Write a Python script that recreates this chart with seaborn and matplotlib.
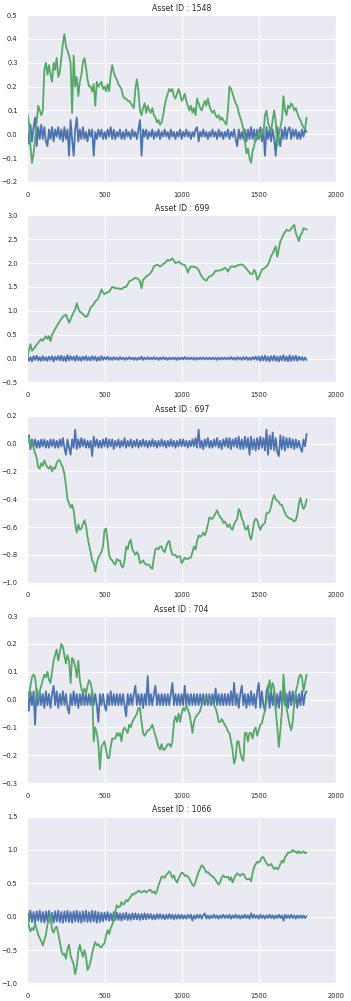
import numpy as np
import matplotlib
matplotlib.use("Agg")
import matplotlib.pyplot as plt
import seaborn as sns
from matplotlib.ticker import MultipleLocator

# one sample every 10 days
ASSET_IDS = [1548, 699, 697, 704, 1066]
DAY_STEP = 10

# ---- asset 1548 ----
RET_1548 = [
    0.02, -0.04, 0.04, -0.03, 0.03, 0.07, -0.05, 0.03, -0.02, 0.04,
    -0.02, 0.03, -0.03, -0.05, 0.02, -0.02, 0.03, -0.03, 0.02, -0.01,
    0.03, -0.02, 0.02, -0.03, 0.03, -0.02, 0.02, -0.09, 0.06, -0.02,
    -0.09, 0.02, 0.07, -0.03, 0.02, -0.02, 0.03, -0.02, 0.01, -0.03,
    0.02, -0.01, 0.02, -0.09, 0.01, -0.02, 0.02, -0.01, 0.02, -0.02,
    0.01, -0.02, 0.02, -0.01, 0.03, -0.02, 0.02, -0.02, 0.01, -0.01,
    0.02, -0.02, 0.01, -0.02, 0.02, -0.01, 0.01, -0.02, 0.02, -0.01,
    0.01, -0.02, 0.02, 0.06, -0.09, 0.02, -0.01, 0.02, -0.02, 0.01,
    -0.01, 0.02, -0.02, 0.01, -0.01, 0.02, -0.02, 0.01, -0.01, 0.02,
    -0.01, 0.01, -0.02, 0.02, -0.01, 0.01, -0.02, 0.01, -0.01, 0.02,
    -0.02, 0.01, -0.01, 0.02, -0.01, 0.01, -0.02, 0.01, -0.01, 0.02,
    0.03, -0.03, 0.01, -0.01, 0.02, -0.01, 0.01, -0.02, 0.01, -0.01,
    0.02, -0.01, 0.01, -0.02, 0.02, -0.01, 0.01, -0.02, 0.01, -0.01,
    0.02, -0.02, 0.01, -0.01, 0.02, -0.02, -0.05, 0.02, -0.02, 0.01,
    -0.02, 0.02, -0.03, 0.02, -0.02, 0.03, -0.02, 0.02, -0.03, 0.02,
    -0.02, 0.03, -0.03, 0.02, -0.09, 0.03, -0.02, 0.02, -0.03, 0.02,
    -0.02, -0.09, 0.03, -0.02, -0.05, 0.02, -0.02, 0.03, -0.02, 0.02,
    0.03, -0.02, 0.02, -0.01, 0.02, -0.02, 0.01, -0.02, 0.02, -0.01,
    0.02, 0.01,
]
CUM_1548 = [
    0.09, 0.05, -0.05, -0.12, -0.08, -0.02, 0.05, 0.12, 0.10, 0.08,
    0.10, 0.27, 0.30, 0.25, 0.29, 0.25, 0.22, 0.30, 0.27, 0.32,
    0.24, 0.26, 0.32, 0.38, 0.42, 0.37, 0.35, 0.33, 0.30, 0.09,
    0.33, 0.20, 0.24, 0.16, 0.22, 0.25, 0.30, 0.32, 0.28, 0.23,
    0.20, 0.20, 0.18, 0.21, 0.12, 0.22, 0.20, 0.21, 0.22, 0.19,
    0.20, 0.18, 0.21, 0.18, 0.25, 0.29, 0.26, 0.24, 0.23, 0.21,
    0.20, 0.19, 0.16, 0.15, 0.15, 0.14, 0.14, 0.13, 0.12, 0.11,
    0.19, 0.23, 0.18, 0.10, 0.08, 0.11, 0.13, 0.09, 0.12, 0.10,
    0.09, 0.11, 0.08, 0.07, 0.05, 0.06, 0.04, 0.05, 0.08, 0.12,
    0.15, 0.17, 0.19, 0.18, 0.19, 0.16, 0.15, 0.17, 0.19, 0.17,
    0.14, 0.15, 0.17, 0.14, 0.12, 0.10, 0.12, 0.09, 0.11, 0.08,
    0.15, 0.13, 0.11, 0.10, 0.12, 0.14, 0.12, 0.15, 0.12, 0.10,
    0.09, 0.10, 0.08, 0.07, 0.08, 0.06, 0.07, 0.06, 0.05, 0.04,
    0.10, 0.20, 0.19, 0.17, 0.15, 0.13, 0.12, 0.09, 0.07, 0.05,
    0.02, -0.03, -0.08, -0.06, -0.10, -0.12, -0.07, -0.05, -0.01, -0.02,
    0.01, -0.01, 0.02, 0.00, 0.08, 0.10, 0.05, 0.03, 0.01, 0.06,
    0.10, 0.05, -0.05, 0.00, 0.03, 0.06, 0.16, 0.10, 0.08, 0.12,
    0.11, 0.13, 0.12, 0.10, 0.11, 0.09, 0.07, 0.06, 0.04, 0.03,
    0.02, 0.07,
]

# ---- asset 699 ----
RET_699 = [
    0.04, -0.05, 0.03, -0.06, 0.05, -0.03, 0.06, -0.04, 0.03, -0.05,
    0.05, -0.04, 0.03, -0.05, 0.04, -0.03, 0.05, -0.06, 0.04, -0.03,
    0.05, -0.04, 0.06, -0.05, 0.04, -0.06, 0.07, -0.04, 0.05, -0.03,
    0.04, -0.05, 0.06, -0.04, 0.03, -0.05, 0.04, -0.03, 0.05, -0.04,
    0.03, -0.04, 0.05, -0.03, 0.04, -0.05, 0.03, -0.04, 0.05, -0.03,
    0.03, -0.02, 0.04, -0.03, 0.02, -0.03, 0.03, -0.02, 0.02, -0.03,
    0.03, -0.02, 0.02, -0.03, 0.02, -0.02, 0.03, -0.02, 0.02, -0.03,
    0.02, -0.03, 0.02, -0.02, 0.04, -0.03, 0.02, -0.02, 0.03, -0.02,
    0.02, -0.02, 0.03, -0.02, 0.02, -0.03, 0.02, -0.02, 0.03, -0.02,
    0.02, -0.03, 0.02, -0.02, 0.02, -0.02, 0.02, -0.03, 0.02, -0.02,
    0.02, -0.02, 0.03, -0.02, 0.02, -0.02, 0.02, -0.02, 0.02, -0.03,
    0.02, -0.02, 0.02, -0.02, 0.02, -0.02, 0.02, -0.02, 0.02, -0.02,
    0.02, -0.02, 0.02, -0.03, 0.02, -0.02, 0.02, -0.02, 0.02, -0.02,
    0.02, -0.02, 0.03, -0.02, 0.02, -0.03, 0.03, -0.02, 0.02, -0.03,
    0.03, -0.02, 0.03, -0.03, 0.02, -0.03, 0.03, -0.02, 0.04, -0.03,
    0.04, -0.05, 0.05, -0.04, 0.06, -0.05, 0.04, -0.06, 0.05, -0.04,
    0.06, -0.05, 0.04, -0.06, 0.05, -0.04, 0.07, -0.05, 0.04, -0.06,
    0.07, -0.05, 0.05, -0.04, 0.06, -0.05, 0.04, -0.03, 0.03, -0.04,
    0.02, -0.03,
]
CUM_699 = [
    0.00, 0.18, 0.30, 0.16, 0.20, 0.24, 0.29, 0.33, 0.37, 0.41,
    0.37, 0.42, 0.47, 0.41, 0.47, 0.36, 0.50, 0.56, 0.62, 0.68,
    0.73, 0.78, 0.83, 0.88, 0.90, 0.92, 0.84, 0.75, 0.82, 0.90,
    0.97, 1.03, 1.16, 1.05, 0.98, 0.96, 0.93, 0.90, 0.87, 0.90,
    0.98, 1.07, 1.10, 1.14, 1.20, 1.22, 1.27, 1.35, 1.45, 1.38,
    1.35, 1.37, 1.39, 1.40, 1.45, 1.50, 1.49, 1.47, 1.48, 1.46,
    1.47, 1.45, 1.48, 1.50, 1.50, 1.55, 1.62, 1.63, 1.65, 1.67,
    1.69, 1.68, 1.66, 1.62, 1.47, 1.65, 1.68, 1.72, 1.74, 1.76,
    1.80, 1.85, 1.93, 1.95, 1.97, 1.95, 1.93, 1.95, 1.98, 2.00,
    2.03, 2.07, 2.05, 2.07, 2.10, 2.05, 2.00, 2.01, 2.03, 2.01,
    1.98, 1.97, 1.96, 1.90, 1.80, 1.88, 1.93, 1.92, 1.93, 1.91,
    1.90, 1.85, 1.78, 1.72, 1.68, 1.65, 1.63, 1.68, 1.72, 1.73,
    1.75, 1.79, 1.84, 1.84, 1.84, 1.85, 1.86, 1.88, 1.90, 1.88,
    1.82, 1.88, 1.93, 1.93, 1.92, 1.93, 1.95, 1.96, 1.97, 1.97,
    1.95, 1.92, 1.88, 1.84, 1.80, 1.77, 1.77, 1.86, 1.80, 1.65,
    1.70, 1.78, 1.86, 1.88, 1.90, 1.93, 1.97, 2.05, 2.15, 2.20,
    2.28, 2.35, 2.13, 2.30, 2.46, 2.52, 2.60, 2.65, 2.70, 2.68,
    2.68, 2.72, 2.77, 2.80, 2.63, 2.55, 2.46, 2.58, 2.63, 2.73,
    2.72, 2.70,
]

# ---- asset 697 ----
RET_697 = [
    0.02, 0.06, -0.04, 0.03, -0.02, 0.03, -0.03, 0.02, -0.03, 0.03,
    -0.02, 0.03, -0.03, 0.02, -0.03, 0.03, -0.02, 0.03, -0.03, 0.02,
    -0.03, 0.03, -0.02, 0.04, -0.03, -0.08, 0.03, -0.03, -0.08, 0.03,
    -0.03, 0.10, -0.04, 0.03, -0.03, 0.04, -0.02, 0.03, -0.03, 0.02,
    -0.03, 0.02, -0.09, 0.05, -0.02, 0.03, -0.03, 0.02, -0.03, 0.03,
    -0.02, 0.04, -0.03, 0.03, -0.02, 0.03, -0.04, 0.02, -0.02, 0.03,
    -0.03, 0.02, -0.02, 0.04, -0.03, 0.02, -0.02, 0.03, -0.03, 0.02,
    -0.02, 0.03, -0.03, 0.02, -0.02, 0.03, -0.02, 0.02, -0.03, 0.02,
    -0.02, 0.03, -0.02, 0.02, -0.03, 0.02, -0.02, 0.03, -0.02, 0.02,
    -0.03, 0.02, -0.02, 0.03, -0.02, 0.02, -0.03, 0.02, -0.02, 0.03,
    -0.02, 0.03, -0.02, 0.02, -0.03, 0.02, -0.02, 0.03, -0.02, 0.04,
    -0.03, 0.10, -0.03, 0.02, -0.04, 0.03, -0.02, 0.04, -0.03, 0.02,
    -0.03, 0.03, -0.02, 0.04, -0.03, 0.02, -0.04, 0.03, -0.02, 0.04,
    -0.03, 0.04, -0.04, 0.03, -0.02, 0.04, -0.03, 0.05, -0.04, 0.03,
    -0.04, 0.05, -0.03, 0.04, -0.08, 0.05, -0.04, 0.03, -0.05, 0.04,
    -0.04, 0.05, -0.03, 0.04, -0.05, 0.10, -0.08, 0.06, -0.04, 0.08,
    -0.05, 0.04, -0.06, -0.09, 0.06, -0.04, 0.05, -0.05, 0.04, -0.03,
    0.04, -0.03, 0.03, -0.04, 0.03, -0.03, 0.02, -0.03, -0.06, 0.03,
    -0.02, 0.07,
]
CUM_697 = [
    0.00, 0.04, -0.01, 0.01, -0.03, -0.07, -0.10, -0.17, -0.18, -0.14,
    -0.16, -0.12, -0.15, -0.17, -0.18, -0.16, -0.20, -0.17, -0.18, -0.14,
    -0.12, -0.12, -0.15, -0.17, -0.22, -0.30, -0.40, -0.43, -0.46, -0.44,
    -0.48, -0.58, -0.64, -0.58, -0.62, -0.61, -0.58, -0.55, -0.59, -0.67,
    -0.73, -0.78, -0.84, -0.86, -0.92, -0.86, -0.82, -0.80, -0.78, -0.74,
    -0.62, -0.61, -0.70, -0.80, -0.83, -0.84, -0.86, -0.87, -0.83, -0.84,
    -0.84, -0.88, -0.89, -0.84, -0.74, -0.76, -0.71, -0.69, -0.76, -0.78,
    -0.80, -0.78, -0.80, -0.86, -0.85, -0.84, -0.86, -0.87, -0.87, -0.87,
    -0.89, -0.90, -0.82, -0.76, -0.75, -0.76, -0.74, -0.74, -0.77, -0.78,
    -0.74, -0.71, -0.70, -0.76, -0.80, -0.80, -0.80, -0.82, -0.81, -0.81,
    -0.86, -0.84, -0.82, -0.83, -0.83, -0.82, -0.82, -0.78, -0.74, -0.76,
    -0.70, -0.66, -0.67, -0.66, -0.64, -0.66, -0.63, -0.58, -0.53, -0.54,
    -0.54, -0.52, -0.50, -0.48, -0.51, -0.53, -0.54, -0.57, -0.56, -0.58,
    -0.60, -0.58, -0.61, -0.62, -0.58, -0.56, -0.54, -0.47, -0.49, -0.54,
    -0.56, -0.61, -0.62, -0.59, -0.66, -0.69, -0.63, -0.56, -0.54, -0.55,
    -0.59, -0.62, -0.59, -0.58, -0.57, -0.50, -0.50, -0.49, -0.45, -0.40,
    -0.37, -0.40, -0.41, -0.42, -0.44, -0.44, -0.47, -0.50, -0.52, -0.53,
    -0.54, -0.54, -0.55, -0.56, -0.55, -0.51, -0.43, -0.39, -0.44, -0.47,
    -0.45, -0.40,
]

# ---- asset 704 ----
RET_704 = [
    0.02, -0.04, 0.03, -0.02, 0.03, -0.09, 0.04, -0.02, 0.03, -0.02,
    0.02, -0.03, 0.03, -0.02, 0.02, -0.03, 0.02, 0.05, -0.02, 0.03,
    -0.03, 0.02, -0.02, 0.03, -0.02, 0.02, -0.03, -0.05, 0.02, -0.02,
    0.03, -0.02, 0.02, -0.03, 0.02, -0.02, 0.03, -0.02, 0.02, -0.02,
    0.02, -0.02, 0.03, -0.02, 0.02, -0.02, -0.08, 0.02, -0.02, 0.02,
    -0.02, -0.04, 0.02, -0.02, 0.03, -0.02, 0.02, -0.02, 0.02, -0.02,
    0.02, -0.02, 0.02, -0.02, -0.06, 0.02, -0.02, 0.02, -0.02, 0.02,
    0.05, -0.02, 0.02, -0.02, 0.02, -0.03, 0.02, -0.02, 0.085, -0.02,
    0.02, -0.02, 0.02, 0.05, -0.02, 0.02, -0.02, 0.02, -0.02, 0.02,
    -0.02, 0.02, -0.02, 0.02, 0.06, -0.02, 0.02, -0.02, 0.02, -0.02,
    0.02, -0.02, 0.05, -0.02, 0.02, -0.02, 0.02, -0.02, 0.02, -0.02,
    0.02, -0.02, 0.02, -0.02, 0.02, -0.02, 0.02, -0.02, 0.02, -0.02,
    0.02, -0.02, 0.04, -0.02, 0.02, -0.02, 0.02, -0.02, 0.02, -0.02,
    0.02, -0.02, 0.03, -0.02, 0.06, -0.02, 0.02, -0.03, 0.02, 0.05,
    -0.02, 0.02, -0.03, 0.02, -0.02, 0.03, -0.02, 0.02, -0.03, 0.03,
    0.06, -0.03, 0.03, -0.02, -0.04, 0.03, 0.05, -0.03, 0.03, -0.02,
    0.03, -0.03, 0.02, -0.03, 0.03, -0.02, 0.03, -0.02, 0.02, -0.03,
    0.03, -0.02, 0.03, -0.02, 0.02, -0.03, 0.02, -0.02, 0.03, -0.02,
    0.02, 0.03,
]
CUM_704 = [
    0.03, 0.01, 0.05, 0.08, 0.09, 0.08, 0.03, 0.00, 0.03, 0.05,
    0.07, 0.09, 0.08, 0.10, 0.07, 0.06, 0.10, 0.14, 0.16, 0.18,
    0.14, 0.17, 0.20, 0.19, 0.16, 0.13, 0.16, 0.14, 0.06, 0.15,
    0.14, 0.12, 0.08, 0.14, 0.07, 0.04, 0.025, 0.04, 0.02, 0.05,
    0.07, 0.06, 0.03, -0.15, -0.10, -0.12, -0.16, -0.25, -0.17, -0.16,
    -0.15, -0.18, -0.21, -0.21, -0.17, -0.14, -0.14, -0.14, -0.12, -0.13,
    -0.12, -0.15, -0.11, -0.10, -0.11, -0.12, -0.09, -0.10, -0.08, -0.07,
    -0.06, -0.05, -0.03, -0.03, -0.08, -0.12, -0.13, -0.12, -0.11, -0.11,
    -0.10, -0.09, -0.11, -0.13, -0.15, -0.17, -0.18, -0.16, -0.18, -0.18,
    -0.17, -0.16, -0.16, -0.17, -0.15, -0.08, -0.06, -0.08, -0.05, -0.08,
    -0.05, -0.03, -0.04, -0.02, -0.035, -0.05, -0.08, -0.12, -0.08, -0.065,
    -0.055, -0.05, -0.04, -0.02, -0.01, 0.00, 0.007, 0.007, 0.00, -0.002,
    -0.01, -0.02, -0.03, -0.05, -0.08, -0.08, -0.07, -0.08, -0.09, -0.10,
    -0.115, -0.12, -0.15, -0.18, -0.23, -0.21, -0.15, -0.15, -0.19, -0.21,
    -0.22, -0.12, -0.12, -0.15, -0.12, -0.12, -0.14, -0.11, -0.10, -0.13,
    -0.11, -0.09, -0.085, -0.06, -0.04, -0.01, 0.03, 0.07, 0.03, 0.06,
    0.04, -0.04, -0.10, -0.17, -0.11, -0.04, 0.09, 0.02, -0.03, -0.06,
    -0.09, -0.11, -0.08, -0.01, 0.03, 0.05, 0.08, 0.09, 0.08, 0.03,
    0.06, 0.09,
]

# ---- asset 1066 ----
RET_1066 = [
    0.08, -0.07, 0.09, -0.08, 0.07, -0.09, 0.08, -0.06, 0.09, -0.08,
    0.07, -0.09, 0.08, -0.07, 0.09, -0.08, 0.06, -0.09, 0.08, -0.07,
    0.09, -0.08, 0.07, -0.09, 0.08, -0.07, 0.09, -0.08, 0.07, -0.09,
    0.08, -0.07, 0.09, -0.08, 0.07, -0.09, 0.08, -0.07, 0.09, -0.08,
    0.07, -0.08, 0.09, -0.07, 0.08, -0.09, 0.07, -0.08, 0.06, -0.07,
    0.06, -0.05, 0.07, -0.06, 0.05, -0.06, 0.07, -0.05, 0.06, -0.05,
    0.05, -0.06, 0.05, -0.04, 0.06, -0.05, 0.04, -0.05, 0.05, -0.04,
    0.05, -0.04, 0.04, -0.05, 0.04, -0.04, 0.05, -0.04, 0.04, -0.03,
    0.04, -0.04, 0.03, -0.04, 0.04, -0.03, 0.04, -0.03, 0.03, -0.04,
    0.03, -0.03, 0.04, -0.03, 0.03, -0.04, 0.03, -0.03, 0.03, -0.03,
    0.03, -0.03, 0.02, -0.03, 0.03, -0.02, 0.03, -0.06, 0.02, -0.03,
    0.03, -0.02, 0.03, -0.03, 0.02, 0.05, -0.03, 0.02, -0.03, 0.02,
    -0.02, 0.03, -0.02, 0.02, -0.03, 0.02, -0.02, 0.03, -0.02, 0.02,
    -0.02, 0.03, -0.03, 0.02, -0.02, 0.03, -0.02, 0.02, -0.03, 0.02,
    -0.02, 0.03, -0.02, 0.02, -0.03, 0.05, -0.02, 0.03, -0.02, 0.02,
    -0.03, 0.03, -0.02, 0.02, -0.03, 0.02, -0.02, 0.03, -0.02, 0.02,
    -0.03, 0.02, -0.02, 0.03, -0.02, 0.02, -0.06, 0.03, -0.02, 0.02,
    -0.02, 0.03, -0.02, 0.02, -0.03, 0.02, -0.02, 0.02, -0.02, 0.02,
    -0.02, 0.01,
]
CUM_1066 = [
    0.10, -0.15, -0.22, -0.17, -0.20, -0.10, -0.18, -0.27, -0.32, -0.37,
    -0.43, -0.35, -0.27, -0.12, -0.05, 0.03, -0.20, -0.24, -0.17, -0.15,
    -0.25, -0.37, -0.50, -0.57, -0.55, -0.63, -0.48, -0.42, -0.58, -0.65,
    -0.72, -0.86, -0.75, -0.52, -0.42, -0.52, -0.60, -0.50, -0.60, -0.80,
    -0.75, -0.67, -0.55, -0.45, -0.38, -0.43, -0.41, -0.45, -0.46, -0.42,
    -0.40, -0.28, -0.20, -0.26, -0.17, -0.12, -0.05, 0.07, 0.17, 0.14,
    0.15, 0.22, 0.18, 0.20, 0.25, 0.23, 0.27, 0.30, 0.34, 0.33,
    0.36, 0.36, 0.39, 0.38, 0.36, 0.38, 0.39, 0.36, 0.38, 0.40,
    0.40, 0.36, 0.38, 0.34, 0.38, 0.47, 0.53, 0.60, 0.60, 0.58,
    0.63, 0.65, 0.68, 0.64, 0.58, 0.62, 0.55, 0.51, 0.57, 0.62,
    0.66, 0.65, 0.61, 0.62, 0.60, 0.57, 0.52, 0.48, 0.46, 0.52,
    0.60, 0.67, 0.72, 0.77, 0.75, 0.71, 0.66, 0.67, 0.64, 0.62,
    0.60, 0.58, 0.55, 0.51, 0.48, 0.52, 0.59, 0.62, 0.59, 0.59,
    0.60, 0.55, 0.59, 0.51, 0.57, 0.62, 0.65, 0.63, 0.61, 0.64,
    0.64, 0.60, 0.56, 0.56, 0.57, 0.53, 0.66, 0.74, 0.79, 0.82,
    0.81, 0.84, 0.89, 0.89, 0.84, 0.80, 0.77, 0.77, 0.79, 0.75,
    0.71, 0.74, 0.71, 0.73, 0.79, 0.84, 0.81, 0.89, 0.92, 0.96,
    0.96, 0.97, 1.00, 0.97, 0.98, 0.95, 0.98, 0.95, 0.96, 0.98,
    0.95, 0.96,
]

RETURNS = [RET_1548, RET_699, RET_697, RET_704, RET_1066]
CUMULATIVE = [CUM_1548, CUM_699, CUM_697, CUM_704, CUM_1066]

# y range and tick spacing per panel
Y_LIMITS = [(-0.2, 0.5), (-0.5, 3.0), (-1.0, 0.2), (-0.3, 0.3), (-1.0, 1.5)]
Y_STEPS = [0.1, 0.5, 0.2, 0.1, 0.5]

sns.set_style("darkgrid")
plt.rcParams['font.family'] = ['DejaVu Sans']

deep = sns.color_palette("deep")
blue, green = deep[0], deep[2]

fig, axes = plt.subplots(5, 1, figsize=(3.51, 10.01), dpi=100)
fig.subplots_adjust(left=0.078, right=0.957, top=0.985, bottom=0.0175, hspace=0.2)

for ax, asset, ret, cum, ylim, ystep in zip(axes, ASSET_IDS, RETURNS, CUMULATIVE, Y_LIMITS, Y_STEPS):
    sns.lineplot(x=np.arange(len(ret)) * DAY_STEP, y=ret, ax=ax, color=blue, linewidth=1.3)
    sns.lineplot(x=np.arange(len(cum)) * DAY_STEP, y=cum, ax=ax, color=green, linewidth=1.3)
    ax.set_xlim(0, 2000)
    ax.set_ylim(*ylim)
    ax.xaxis.set_major_locator(MultipleLocator(500))
    ax.yaxis.set_major_locator(MultipleLocator(ystep))
    ax.tick_params(labelsize=4.8, pad=3.5)
    ax.set_title(f"Asset ID : {asset}", fontsize=5.6, pad=3)

fig.savefig("out.png", dpi=100)
